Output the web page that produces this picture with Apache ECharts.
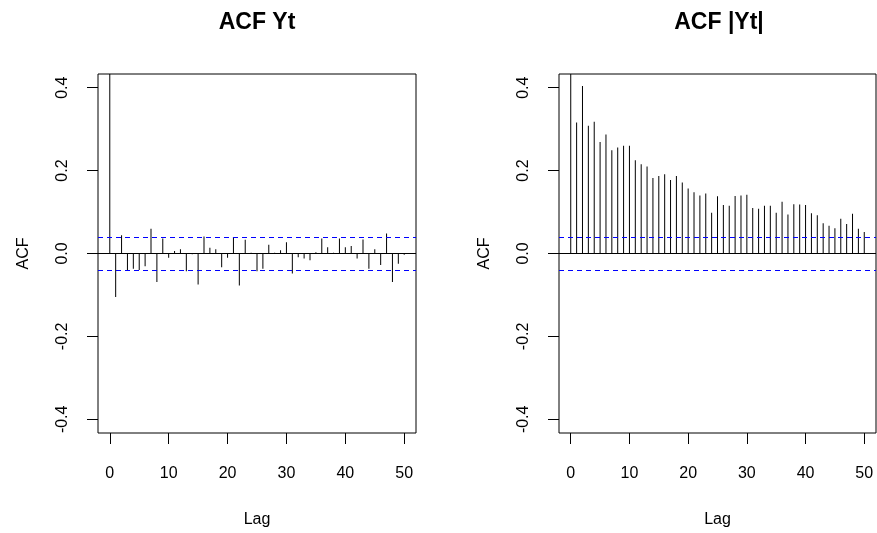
<!DOCTYPE html>
<html>
<head>
<meta charset="utf-8">
<script src="https://cdn.jsdelivr.net/npm/echarts@6/dist/echarts.min.js"></script>
<style>
html,body{margin:0;padding:0;background:#fff;}
#chart{width:877px;height:533px;}
</style>
</head>
<body>
<div id="chart"></div>
<script>
const lags = [0,1,2,3,4,5,6,7,8,9,10,11,12,13,14,15,16,17,18,19,20,21,22,23,24,25,26,27,28,29,30,31,32,33,34,35,36,37,38,39,40,41,42,43,44,45,46,47,48,49,50];
const acfY = [1, -0.105, 0.044, -0.040, -0.037, -0.040, -0.031, 0.060, -0.069, 0.036, -0.010, 0.006, 0.010, -0.043, -0.002, -0.075, 0.041, 0.014, 0.010, -0.033, -0.010, 0.040, -0.077, 0.033, 0.002, -0.043, -0.037, 0.021, 0.002, 0.008, 0.027, -0.048, -0.009, -0.012, -0.016, 0.003, 0.036, 0.015, 0.002, 0.036, 0.015, 0.018, -0.012, 0.034, -0.037, 0.010, -0.028, 0.048, -0.069, -0.025, -0.003];
const acfAbsY = [1, 0.316, 0.404, 0.308, 0.318, 0.269, 0.287, 0.249, 0.256, 0.260, 0.260, 0.225, 0.215, 0.210, 0.182, 0.187, 0.191, 0.177, 0.187, 0.171, 0.157, 0.148, 0.140, 0.145, 0.098, 0.138, 0.117, 0.115, 0.139, 0.140, 0.142, 0.110, 0.108, 0.115, 0.115, 0.098, 0.125, 0.094, 0.119, 0.118, 0.117, 0.097, 0.092, 0.073, 0.067, 0.061, 0.084, 0.071, 0.096, 0.060, 0.052];
const ciBound = 0.0365;
const xTicks = [0,10,20,30,40,50];
const yTicks = [-0.4,-0.2,0,0.2,0.4];
const titles = ['ACF Yt','ACF |Yt|'];
const xLabel = 'Lag';
const yLabel = 'ACF';

const FONT = '"Liberation Sans", Arial, Helvetica, sans-serif';
const chart = echarts.init(document.getElementById('chart'), null, {renderer:'canvas'});

const grids = [
  {left:98, top:74, width:318, height:363},
  {left:559, top:74, width:317, height:363}
];

function xAxisFor(i){
  return {
    gridIndex:i, type:'value', min:-2, max:52, position:'bottom',
    axisLine:{show:false, onZero:false},
    splitLine:{show:false},
    axisTick:{show:true, inside:false, length:11, customValues:xTicks, lineStyle:{color:'#000', width:1}},
    axisLabel:{show:true, customValues:xTicks, margin:33, color:'#000', fontSize:16, fontFamily:FONT},
    name:xLabel, nameLocation:'middle', nameGap:79,
    nameTextStyle:{color:'#000', fontSize:16, fontFamily:FONT}
  };
}
function yAxisFor(i){
  return {
    gridIndex:i, type:'value', min:-0.433, max:0.433, position:'left',
    axisLine:{show:false, onZero:false},
    splitLine:{show:false},
    axisTick:{show:true, inside:false, length:11, customValues:yTicks, lineStyle:{color:'#000', width:1}},
    axisLabel:{show:true, customValues:yTicks, rotate:90, margin:27, color:'#000', fontSize:16, fontFamily:FONT,
      formatter:function(v){ return (Math.abs(v)<1e-9?0:v).toFixed(1); }},
    name:yLabel, nameLocation:'middle', nameGap:66,
    nameTextStyle:{color:'#000', fontSize:16, fontFamily:FONT}
  };
}
function barSeries(i, vals){
  return {
    type:'bar', xAxisIndex:i, yAxisIndex:i,
    data: lags.map((l,k)=>[l, vals[k]]),
    barWidth:1, clip:true, silent:true, animation:false,
    itemStyle:{color:'#000'},
    markLine:{
      silent:true, symbol:['none','none'], animation:false,
      label:{show:false},
      data:[
        {yAxis:0, lineStyle:{color:'#000', type:'solid', width:1}},
        {yAxis:ciBound, lineStyle:{color:'#0000FF', type:[5,4], width:1}},
        {yAxis:-ciBound, lineStyle:{color:'#0000FF', type:[5,4], width:1}}
      ]
    }
  };
}

chart.setOption({
  backgroundColor:'#fff',
  animation:false,
  title:[
    {text:titles[0], left:252, top:6, textAlign:'center', textStyle:{fontSize:23, fontWeight:'bold', color:'#000', fontFamily:FONT}},
    {text:titles[1], left:714, top:6, textAlign:'center', textStyle:{fontSize:23, fontWeight:'bold', color:'#000', fontFamily:FONT}}
  ],
  grid: grids.map(g=>Object.assign({show:true, borderColor:'#000', borderWidth:1, backgroundColor:'transparent'}, g)),
  xAxis:[xAxisFor(0), xAxisFor(1)],
  yAxis:[yAxisFor(0), yAxisFor(1)],
  series:[barSeries(0, acfY), barSeries(1, acfAbsY)]
});
</script>
</body>
</html>
